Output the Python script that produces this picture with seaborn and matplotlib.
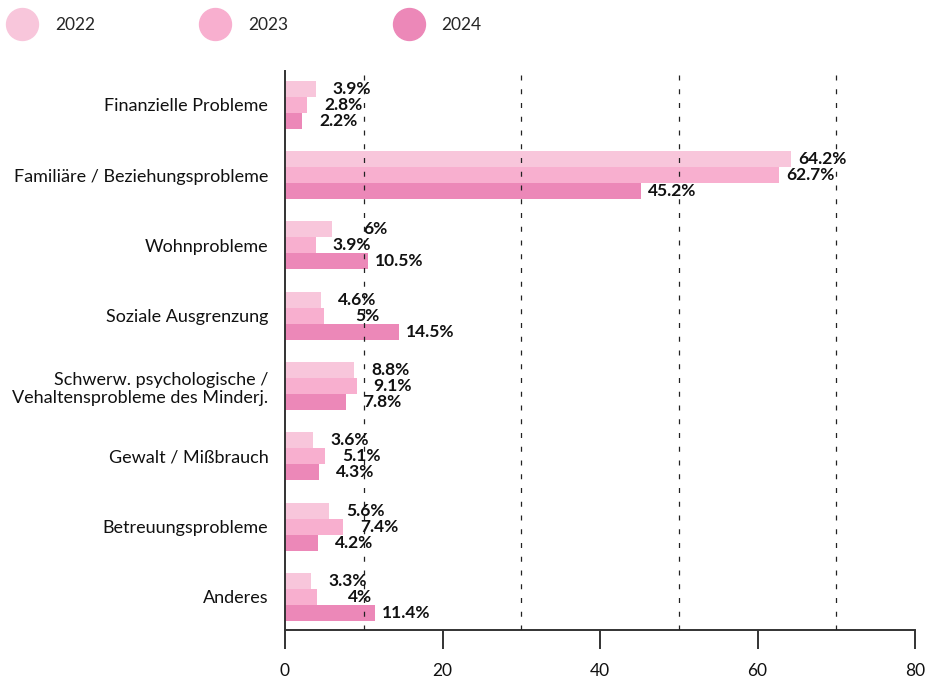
import numpy as np
import pandas as pd
import matplotlib
matplotlib.use("Agg")
from matplotlib import pyplot as plt
from matplotlib.lines import Line2D
import seaborn as sns

sns.set_style("white")
plt.rcParams['font.family'] = ['Lato', 'DejaVu Sans']

categories = [
    "Finanzielle Probleme",
    "Familiäre / Beziehungsprobleme",
    "Wohnprobleme",
    "Soziale Ausgrenzung",
    "Schwerw. psychologische /\nVehaltensprobleme des Minderj.",
    "Gewalt / Mißbrauch",
    "Betreuungsprobleme",
    "Anderes",
]
years = ["2022", "2023", "2024"]
v2022 = [3.9, 64.2, 6, 4.6, 8.8, 3.6, 5.6, 3.3]
v2023 = [2.8, 62.7, 3.9, 5, 9.1, 5.1, 7.4, 4]
v2024 = [2.2, 45.2, 10.5, 14.5, 7.8, 4.3, 4.2, 11.4]
colors = ["#f8c6db", "#f8afcf", "#ec88b8"]
x_ticks = [0, 20, 40, 60, 80]
grid_x = [10, 30, 50, 70]

df = pd.DataFrame({
    "Kategorie": categories * 3,
    "Jahr": np.repeat(years, len(categories)),
    "Wert": v2022 + v2023 + v2024,
})

fig = plt.figure(figsize=(9.27, 6.8), dpi=100)
ax = fig.add_axes([285/927, 1-630/680, 630/927, 559/680])

sns.barplot(data=df, y="Kategorie", x="Wert", hue="Jahr", orient="h",
            palette=colors, width=0.68, saturation=1, linewidth=0,
            ax=ax, legend=False)

# value labels, right-aligned a fixed distance past the bar end
for cont in ax.containers:
    for bar in cont:
        v = bar.get_width()
        ax.annotate(f"{v:g}%", (v, bar.get_y() + bar.get_height()/2),
                    xytext=(40, 0), textcoords="offset points",
                    ha="right", va="center", fontsize=12.5, fontweight="bold",
                    color="#111111", zorder=6)

for gx in grid_x:
    ax.axvline(gx, color="#222222", lw=0.9, ls=(0, (4, 7)), zorder=5)

ax.set_xlim(0, 80)
ax.set_ylim(7.47, -0.48)
ax.set_xticks(x_ticks)
ax.set_xlabel("")
ax.set_ylabel("")
for s in ["top", "right"]:
    ax.spines[s].set_visible(False)
for s in ["left", "bottom"]:
    ax.spines[s].set_color("#333333")
    ax.spines[s].set_linewidth(1.4)
ax.tick_params(axis="x", bottom=True, direction="out", length=14, width=1.4,
               color="#333333", labelsize=12.5, pad=10, labelcolor="#111111")
ax.tick_params(axis="y", left=False, length=0, pad=12, labelsize=13,
               labelcolor="#111111")

handles = [Line2D([0], [0], marker="o", linestyle="", markersize=23,
                  markerfacecolor=c, markeredgecolor=c) for c in colors]
fig.legend(handles, years, loc="upper left", bbox_to_anchor=(-0.006, 0.99),
           ncol=3, frameon=False, fontsize=12.5, handletextpad=0.9,
           columnspacing=5.92, borderaxespad=0.2)

fig.savefig("out.png", dpi=100)
